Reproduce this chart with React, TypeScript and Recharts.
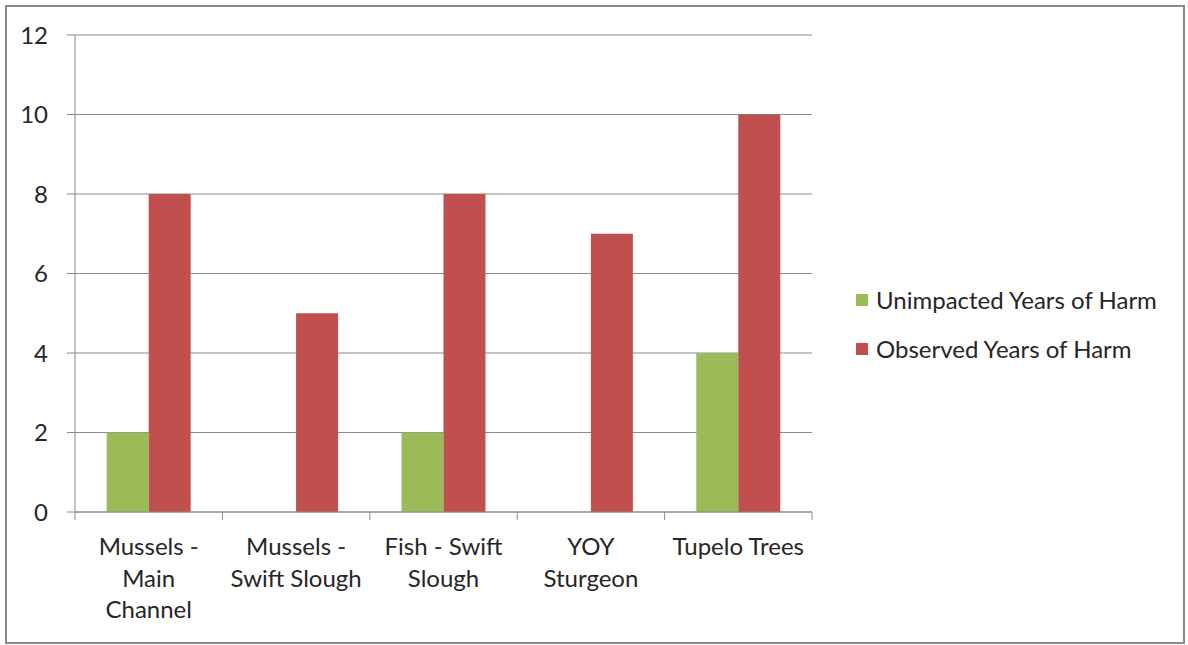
import React from 'react';
import { BarChart, Bar, XAxis, YAxis, CartesianGrid, Legend } from 'recharts';

const categories = [
  'Mussels -\nMain\nChannel',
  'Mussels -\nSwift Slough',
  'Fish - Swift\nSlough',
  'YOY\nSturgeon',
  'Tupelo Trees',
];
const unimpacted = [2, 0, 2, 0, 4];
const observed = [8, 5, 8, 7, 10];
const yTicks = [0, 2, 4, 6, 8, 10, 12];
const seriesNames = ['Unimpacted Years of Harm', 'Observed Years of Harm'];

const data = categories.map((name, i) => ({
  name,
  unimpacted: unimpacted[i],
  observed: observed[i],
}));

const FONT = 'Lato, "Open Sans", sans-serif';
const FS = 24;
const TEXT = '#262626';
const GRID = '#8a8a8a';
const W = 1188;
const H = 645;
const M = { top: 35, right: 376, bottom: 0, left: 0 };
const Y_W = 75;
const BAND = (W - M.left - M.right - Y_W) / categories.length;

const XTick = (props: any) => {
  const { x, y, payload, index } = props;
  const lines = String(payload.value).split('\n');
  const last = index === categories.length - 1;
  return (
    <g>
      <line x1={x - BAND / 2} x2={x - BAND / 2} y1={y} y2={y + 8} stroke={GRID} />
      {last && <line x1={x + BAND / 2} x2={x + BAND / 2} y1={y} y2={y + 8} stroke={GRID} />}
      <text x={x} y={y + 43} textAnchor="middle" fill={TEXT} fontSize={FS} fontFamily={FONT}>
        {lines.map((l, i) => (
          <tspan key={i} x={x} dy={i === 0 ? 0 : 31.5}>{l}</tspan>
        ))}
      </text>
    </g>
  );
};

const LegendBox = (props: any) => {
  const items = [...(props.payload || [])].sort(
    (a: any, b: any) => seriesNames.indexOf(a.value) - seriesNames.indexOf(b.value)
  );
  return (
    <div style={{ fontFamily: FONT, fontSize: FS, color: TEXT }}>
      {items.map((p: any, i: number) => (
        <div key={i} style={{ display: 'flex', alignItems: 'center', height: 49 }}>
          <span style={{ width: 12, height: 12, background: p.color, display: 'inline-block', marginRight: 8 }} />
          <span>{p.value}</span>
        </div>
      ))}
    </div>
  );
};

export default function App() {
  return (
    <div style={{ position: 'absolute', left: 0, top: 0, width: W, height: H, background: '#fff' }}>
      <div
        style={{
          position: 'absolute',
          left: 5,
          top: 5,
          width: 1176,
          height: 635,
          border: '2px solid #8a8a8a',
        }}
      />
      <div style={{ position: 'absolute', left: 0, top: 0 }}>
        <BarChart width={W} height={H} data={data} margin={M} barGap={0} barCategoryGap="21.5%">
          <CartesianGrid vertical={false} stroke={GRID} />
          <XAxis
            dataKey="name"
            height={133}
            tickLine={false}
            tickSize={0}
            tickMargin={0}
            axisLine={{ stroke: GRID }}
            tick={<XTick />}
            interval={0}
          />
          <YAxis
            width={Y_W}
            domain={[0, 12]}
            ticks={yTicks}
            tickSize={8}
            tickMargin={19}
            axisLine={{ stroke: GRID }}
            tickLine={{ stroke: GRID }}
            tick={{ fill: TEXT, fontSize: FS, fontFamily: FONT }}
          />
          <Legend
            layout="vertical"
            align="center"
            verticalAlign="middle"
            wrapperStyle={{ left: 856, top: 275, width: 'auto' }}
            content={<LegendBox />}
          />
          <Bar dataKey="unimpacted" name={seriesNames[0]} fill="#9BBB59" isAnimationActive={false} />
          <Bar dataKey="observed" name={seriesNames[1]} fill="#C0504D" isAnimationActive={false} />
        </BarChart>
      </div>
    </div>
  );
}
